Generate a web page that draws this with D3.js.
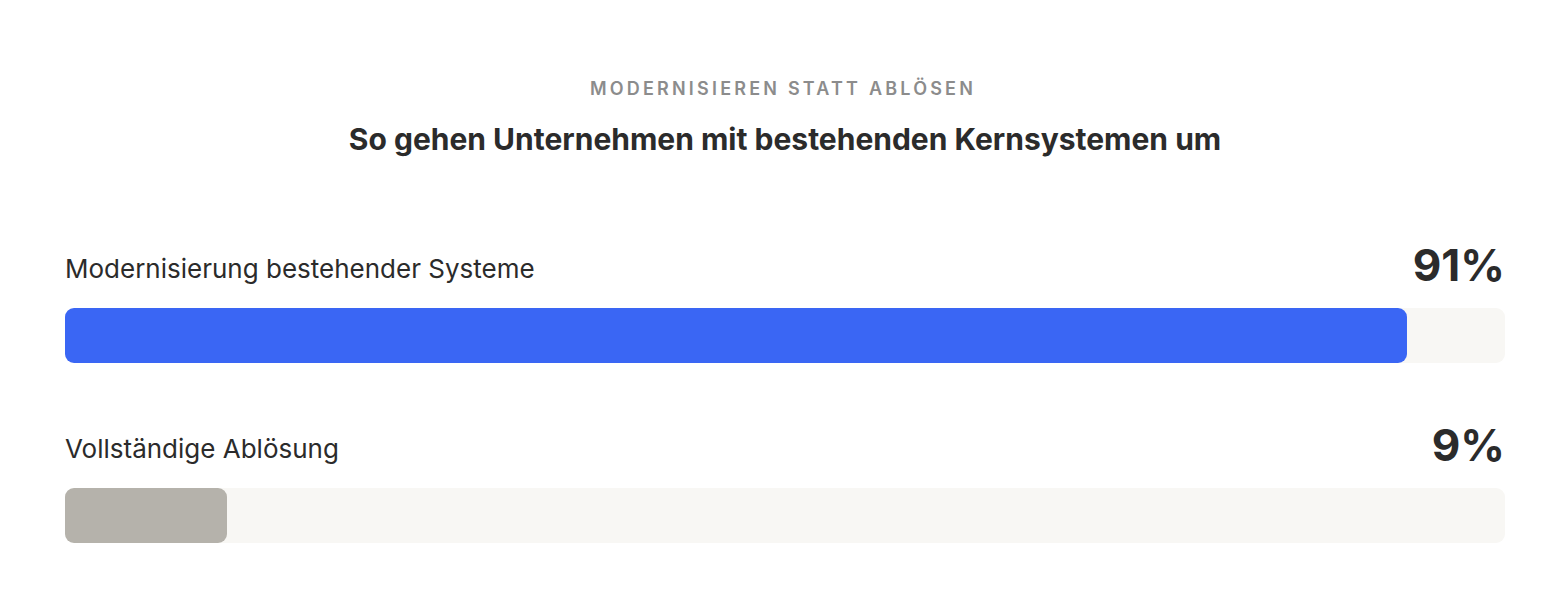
<!DOCTYPE html>
<html><head><meta charset="utf-8">
<script src="https://cdn.jsdelivr.net/npm/d3@7"></script>
<style>body{margin:0;background:#fff;font-family:Inter,"Noto Sans",sans-serif;}</style>
</head><body>
<svg id="chart" width="1566" height="596"></svg>
<script>
var categories = ["Modernisierung bestehender Systeme", "Vollständige Ablösung"];
var values = [91, 9];
var colors = ["#3a66f4", "#b5b2ab"];
var kicker = "MODERNISIEREN STATT ABLÖSEN";
var title = "So gehen Unternehmen mit bestehenden Kernsystemen um";

var svg = d3.select("#chart");
var left = 65, right = 1505, barH = 55;

// fill scale (bars carry a small base offset in the original)
var x = d3.scaleLinear().domain([0, 100]).range([32.5, 1471.5]);
var y = d3.scaleBand().domain(categories).range([248, 608]).paddingInner(0);

svg.append("text").attr("x", 783).attr("y", 95).attr("text-anchor", "middle")
    .attr("fill", "#8c8c8c").attr("font-size", 18).attr("font-weight", 600)
    .attr("letter-spacing", 3.2).text(kicker);
svg.append("text").attr("x", 785).attr("y", 150).attr("text-anchor", "middle")
    .attr("fill", "#2b2b2b").attr("font-size", 30).attr("font-weight", 700)
    .text(title);

var g = svg.selectAll("g.row").data(categories).enter().append("g")
    .attr("transform", function (d) { return "translate(0," + y(d) + ")"; });

g.append("text").attr("x", left).attr("y", 30).attr("fill", "#2b2b2b")
    .attr("font-size", 26).text(function (d) { return d; });
g.append("text").attr("x", right).attr("y", 33).attr("text-anchor", "end")
    .attr("fill", "#2b2b2b").attr("font-size", 44).attr("font-weight", 700)
    .text(function (d, i) { return values[i] + "%"; });
g.append("rect").attr("x", left).attr("y", 60).attr("width", right - left)
    .attr("height", barH).attr("rx", 9).attr("fill", "#f8f7f4");
g.append("rect").attr("x", left).attr("y", 60)
    .attr("width", function (d, i) { return x(values[i]); })
    .attr("height", barH).attr("rx", 9)
    .attr("fill", function (d, i) { return colors[i]; });
</script>
</body></html>
